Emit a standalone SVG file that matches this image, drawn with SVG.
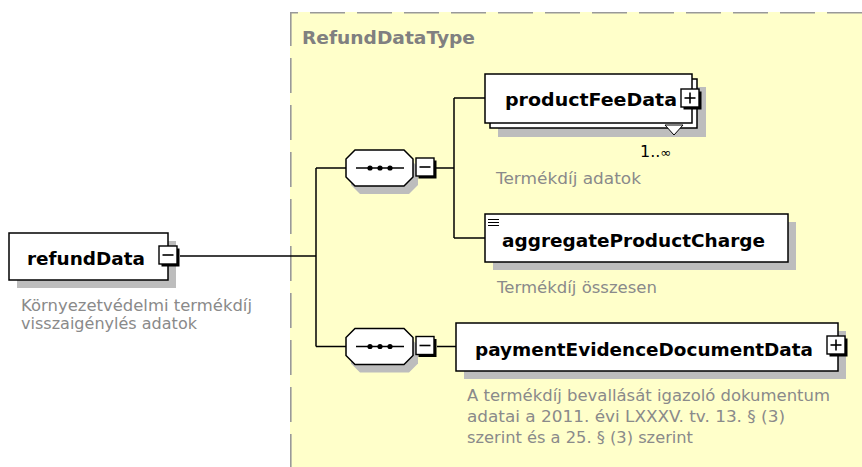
<svg xmlns="http://www.w3.org/2000/svg" width="862" height="467" viewBox="0 0 862 467">
<style>
.box{fill:#fff;stroke:#000;stroke-width:1.5}
.shadow{fill:#bdbdbd}
.conn{fill:none;stroke:#000;stroke-width:1.5}
.lbl{font-family:"DejaVu Sans",sans-serif;font-weight:bold;font-size:17px;fill:#000}
.desc{font-family:"DejaVu Sans",sans-serif;font-size:15px;fill:#8a8a8a}
.title{font-family:"DejaVu Sans",sans-serif;font-weight:bold;font-size:17px;fill:#808080}
.pm{fill:#fff;stroke:#000;stroke-width:1.4}
.pmsh{fill:#000}
.sign{stroke:#000;stroke-width:1.6}
</style>
<defs>
<g id="minus"><rect class="pmsh" x="2.5" y="2.5" width="18" height="18"/><rect class="pm" x="0" y="0" width="18" height="18"/><line class="sign" x1="3.5" y1="9" x2="14.5" y2="9"/></g>
<g id="plus"><rect class="pmsh" x="2.5" y="2.5" width="18" height="18"/><rect class="pm" x="0" y="0" width="18" height="18"/><line class="sign" x1="3.5" y1="9" x2="14.5" y2="9"/><line class="sign" x1="9" y1="3.5" x2="9" y2="14.5"/></g>
<g id="seq">
<path class="shadow" d="M14,8 H63 L72,17 V35 L63,44 H14 L5,35 V17 Z"/>
<path class="box" d="M9,0 H58 L67,9 V27 L58,36 H9 L0,27 V9 Z"/>
<line x1="10" y1="18" x2="58" y2="18" stroke="#000" stroke-width="1.3"/>
<circle cx="24" cy="18" r="2.6"/><circle cx="34" cy="18" r="2.6"/><circle cx="44" cy="18" r="2.6"/>
</g>
</defs>

<g id="complexType">
<rect x="290" y="12" width="580" height="470" fill="#ffffca"/>
<line x1="290.8" y1="12" x2="290.8" y2="467" stroke="#999" stroke-width="1.6" stroke-dasharray="35 12" stroke-dashoffset="1"/>
<line x1="290" y1="12.8" x2="862" y2="12.8" stroke="#999" stroke-width="1.6" stroke-dasharray="35 12" stroke-dashoffset="27"/>
<text class="title" x="302" y="44" textLength="173" lengthAdjust="spacingAndGlyphs">RefundDataType</text>
</g>

<g id="connectors">
<path class="conn" d="M180,256 H316"/>
<path class="conn" d="M316,168 V346.5"/>
<path class="conn" d="M316,168 H346"/>
<path class="conn" d="M316,346.5 H346"/>
<path class="conn" d="M436,168 H454"/>
<path class="conn" d="M454,98 V238"/>
<path class="conn" d="M454,98 H485"/>
<path class="conn" d="M454,238 H485"/>
<path class="conn" d="M437,346.5 H456"/>
</g>

<g id="refundData">
<rect class="shadow" x="17" y="241" width="159" height="47"/>
<rect class="box" x="9" y="233" width="159" height="47"/>
<text class="lbl" x="27" y="265" textLength="118" lengthAdjust="spacingAndGlyphs">refundData</text>
<use href="#minus" x="159" y="246"/>
<text class="desc" x="21" y="311" textLength="231" lengthAdjust="spacingAndGlyphs">Környezetvédelmi termékdíj</text>
<text class="desc" x="21" y="329" textLength="176" lengthAdjust="spacingAndGlyphs">visszaigénylés adatok</text>
</g>

<g id="sequence1">
<use href="#seq" x="346" y="150"/>
<use href="#minus" x="416" y="158"/>
</g>

<g id="sequence2">
<use href="#seq" x="346" y="328.5"/>
<use href="#minus" x="416" y="336.5"/>
</g>

<g id="productFeeData">
<rect class="shadow" x="498" y="87" width="208" height="50"/>
<rect class="box" x="490" y="79" width="207" height="49"/>
<rect class="box" x="485" y="74" width="207" height="49"/>
<text class="lbl" x="505" y="106" textLength="172" lengthAdjust="spacingAndGlyphs">productFeeData</text>
<use href="#plus" x="681" y="89"/>
<path d="M665,125 H683 L674,135 Z" fill="#fff" stroke="#000" stroke-width="1"/>
<text x="640" y="157" font-family="DejaVu Sans, sans-serif" font-size="16" fill="#000">1..<tspan font-size="13">∞</tspan></text>
<text class="desc" x="496" y="184" textLength="145" lengthAdjust="spacingAndGlyphs">Termékdíj adatok</text>
</g>

<g id="aggregateProductCharge">
<rect class="shadow" x="493" y="222" width="303" height="48"/>
<rect class="box" x="485" y="214" width="303" height="48"/>
<g stroke="#000" stroke-width="1"><line x1="488" y1="219.5" x2="499" y2="219.5"/><line x1="488" y1="222.5" x2="499" y2="222.5"/><line x1="488" y1="225.5" x2="499" y2="225.5"/></g>
<text class="lbl" x="502" y="247" textLength="263" lengthAdjust="spacingAndGlyphs">aggregateProductCharge</text>
<text class="desc" x="497" y="293" textLength="160" lengthAdjust="spacingAndGlyphs">Termékdíj összesen</text>
</g>

<g id="paymentEvidenceDocumentData">
<rect class="shadow" x="464" y="331" width="382" height="48"/>
<rect class="box" x="456" y="323" width="382" height="48"/>
<text class="lbl" x="475" y="356" textLength="338" lengthAdjust="spacingAndGlyphs">paymentEvidenceDocumentData</text>
<use href="#plus" x="827" y="336"/>
<text class="desc" x="467" y="401" textLength="363" lengthAdjust="spacingAndGlyphs">A termékdíj bevallását igazoló dokumentum</text>
<text class="desc" x="467" y="422" textLength="318" lengthAdjust="spacingAndGlyphs">adatai a 2011. évi LXXXV. tv. 13. § (3)</text>
<text class="desc" x="467" y="443" textLength="226" lengthAdjust="spacingAndGlyphs">szerint és a 25. § (3) szerint</text>
</g>
</svg>
